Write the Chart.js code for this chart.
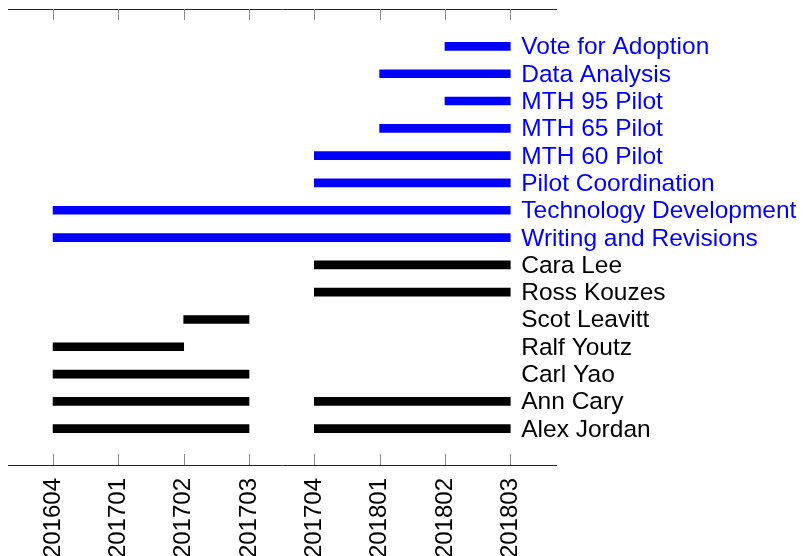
<!DOCTYPE html>
<html>
<head>
<meta charset="utf-8">
<script src="https://cdn.jsdelivr.net/npm/chart.js@4.4.1/dist/chart.umd.min.js"></script>
<style>
  html, body { margin: 0; padding: 0; background: #fff; }
  canvas { display: block; }
</style>
</head>
<body>
<canvas id="c" width="806" height="556"></canvas>
<script>
// ---- data ----
const periods = ['201604', '201701', '201702', '201703', '201704', '201801', '201802', '201803'];

const people = ['Alex Jordan', 'Ann Cary', 'Carl Yao', 'Ralf Youtz', 'Scot Leavitt', 'Ross Kouzes', 'Cara Lee'];
const peopleFirstStart  = ['201604', '201604', '201604', '201604', '201702', null, null];
const peopleFirstEnd    = ['201703', '201703', '201703', '201702', '201703', null, null];
const peopleSecondStart = ['201704', '201704', null, null, null, '201704', '201704'];
const peopleSecondEnd   = ['201803', '201803', null, null, null, '201803', '201803'];

const activities = ['Writing and Revisions', 'Technology Development', 'Pilot Coordination', 'MTH 60 Pilot',
                    'MTH 65 Pilot', 'MTH 95 Pilot', 'Data Analysis', 'Vote for Adoption'];
const activityStart = ['201604', '201604', '201704', '201704', '201801', '201802', '201801', '201802'];
const activityEnd   = ['201803', '201803', '201803', '201803', '201803', '201803', '201803', '201803'];

// ---- build ----
const pIdx = p => periods.indexOf(p);
function segs(starts, ends, rowOffset) {
  const out = [];
  starts.forEach((s, i) => {
    if (s !== null && ends[i] !== null) out.push({ x: [pIdx(s), pIdx(ends[i])], y: rowOffset + i });
  });
  return out;
}
const rowLabels = people.concat(activities);
const rowColors = people.map(() => '#000000').concat(activities.map(() => '#0000ff'));

const FONT = '"Liberation Sans", Arial, sans-serif';

const rowLabelPlugin = {
  id: 'rowLabels',
  afterDatasetsDraw(chart) {
    const { ctx, scales: { x, y } } = chart;
    ctx.save();
    ctx.font = '24.5px ' + FONT;
    ctx.textAlign = 'left';
    ctx.textBaseline = 'alphabetic';
    const lx = x.getPixelForValue(periods.length - 1) + 11;
    rowLabels.forEach((lab, i) => {
      ctx.fillStyle = rowColors[i];
      ctx.fillText(lab, lx, y.getPixelForValue(i) + 8);
    });
    ctx.restore();
  }
};

const inwardTicks = {
  id: 'inwardTicks',
  afterDraw(chart) {
    const { ctx, chartArea: a, scales: { x } } = chart;
    ctx.save();
    ctx.strokeStyle = '#8c8c8c';
    ctx.lineWidth = 1;
    x.ticks.forEach(t => {
      const px = Math.round(x.getPixelForValue(t.value)) + 0.5;
      ctx.beginPath();
      ctx.moveTo(px, a.bottom); ctx.lineTo(px, a.bottom - 11);
      ctx.moveTo(px, a.top); ctx.lineTo(px, a.top + 11);
      ctx.stroke();
    });
    ctx.restore();
  }
};

new Chart(document.getElementById('c'), {
  type: 'bar',
  data: {
    datasets: [
      { data: segs(activityStart, activityEnd, people.length), backgroundColor: '#0000ff' },
      { data: segs(peopleFirstStart, peopleFirstEnd, 0), backgroundColor: '#000000' },
      { data: segs(peopleSecondStart, peopleSecondEnd, 0), backgroundColor: '#000000' }
    ]
  },
  options: {
    indexAxis: 'y',
    responsive: false,
    animation: false,
    grouped: false,
    barThickness: 8,
    layout: { padding: { left: 8, right: 250, top: 9, bottom: 0 } },
    plugins: { legend: { display: false }, tooltip: { enabled: false } },
    scales: {
      x: {
        type: 'linear',
        position: 'bottom',
        min: -0.69,
        max: 7.7,
        afterBuildTicks: s => { s.ticks = periods.map((_, i) => ({ value: i })); },
        afterFit: s => { s.height = 91; },
        grid: { display: false, drawTicks: false },
        border: { display: true, color: '#262626', width: 1 },
        ticks: {
          autoSkip: false,
          minRotation: 90,
          maxRotation: 90,
          padding: 13,
          color: '#000000',
          font: { family: FONT, size: 24 },
          callback: v => periods[v]
        }
      },
      x2: {
        type: 'linear',
        position: 'top',
        axis: 'x',
        min: -0.69,
        max: 7.7,
        afterFit: s => { s.height = 0; },
        grid: { display: false, drawTicks: false },
        border: { display: true, color: '#262626', width: 1 },
        ticks: { display: false }
      },
      y: {
        type: 'linear',
        display: false,
        offset: false,
        min: -1.33,
        max: 15.37
      }
    }
  },
  plugins: [rowLabelPlugin, inwardTicks]
});
</script>
</body>
</html>
